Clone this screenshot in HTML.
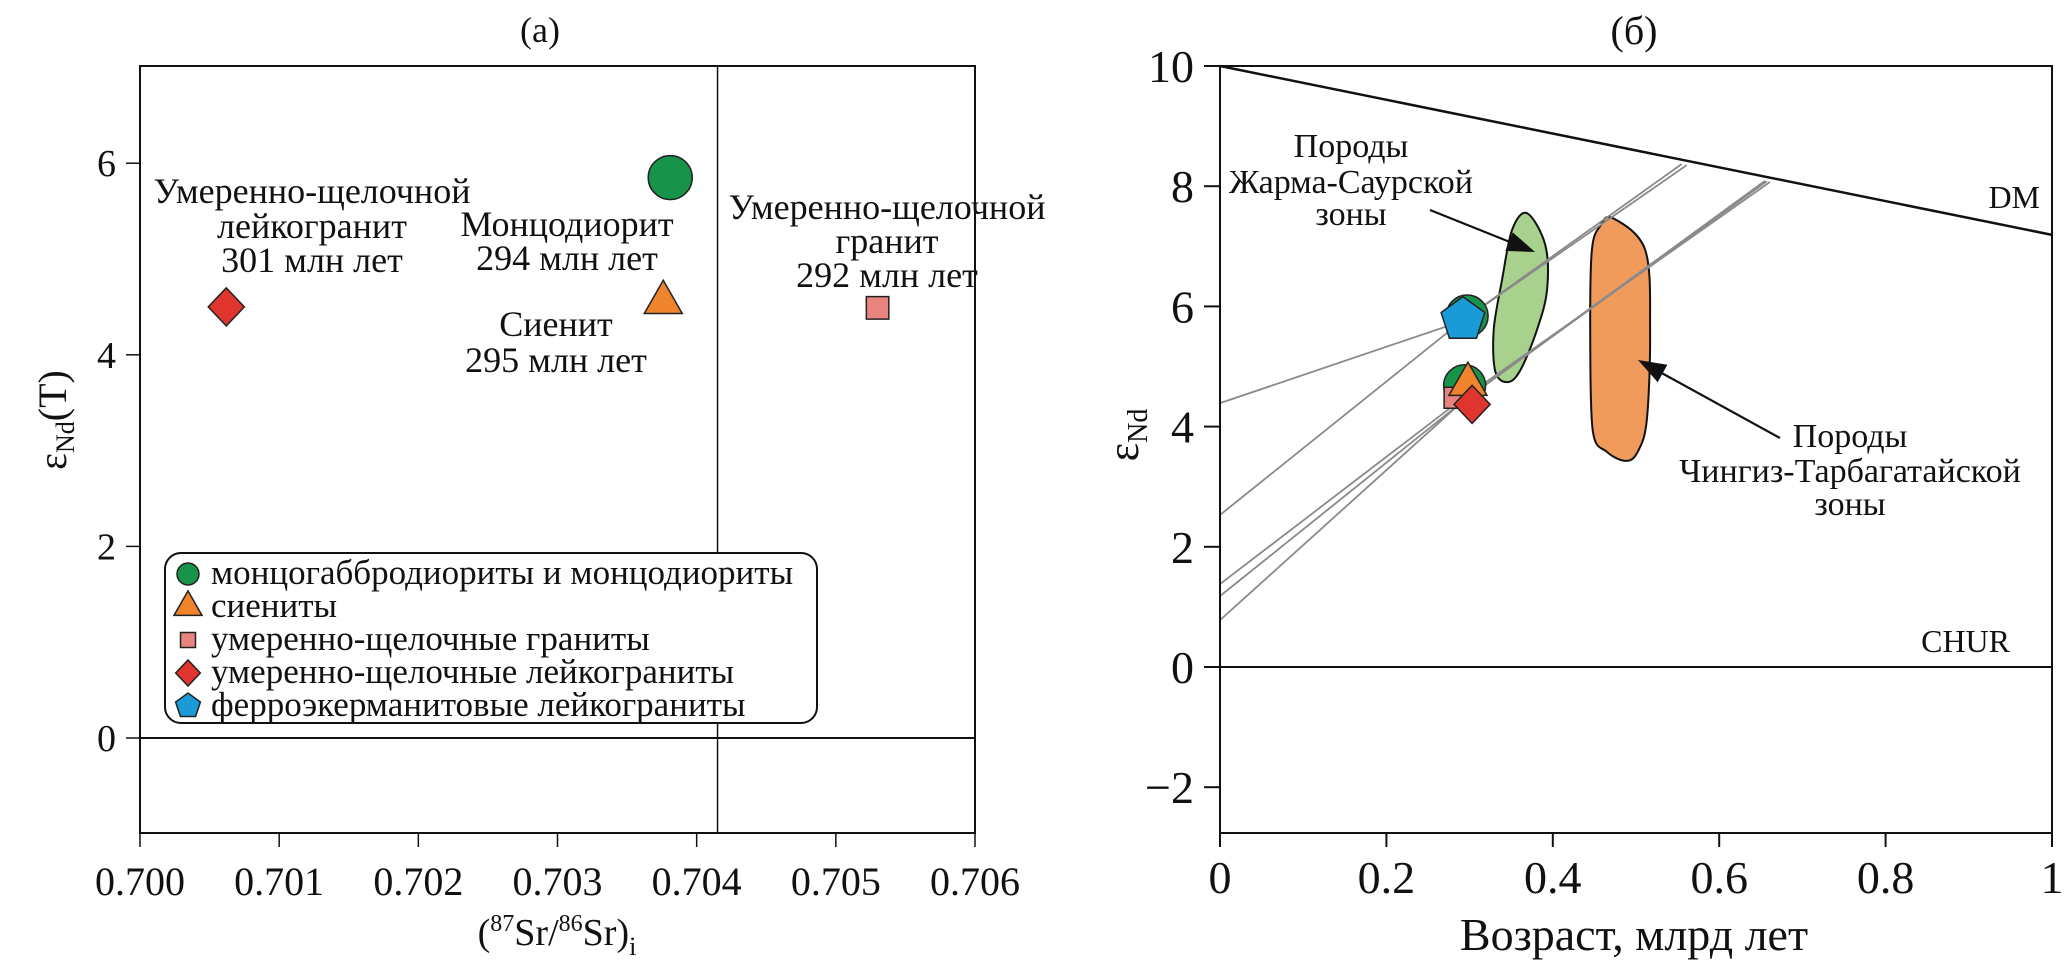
<!DOCTYPE html>
<html><head><meta charset="utf-8"><style>
body{margin:0;background:#fff}
svg{display:block}
text{font-family:"Liberation Serif",serif;fill:#111}
</style></head><body>
<svg id="svg" width="2067" height="969" viewBox="0 0 2067 969" xmlns="http://www.w3.org/2000/svg">
<g id="pa"></g>
<g id="pb"></g>
</svg>
<script>
// ---------- Panel A data ----------
const aXTicks = [0.700, 0.701, 0.702, 0.703, 0.704, 0.705, 0.706];
const aXTickLabels = ["0.700","0.701","0.702","0.703","0.704","0.705","0.706"];
const aYTicks = [0, 2, 4, 6];
const aSeriesNames = ["монцогаббродиориты и монцодиориты","сиениты","умеренно-щелочные граниты","умеренно-щелочные лейкограниты","ферроэкерманитовые лейкограниты"];
const aSrValues = [0.70381, 0.70376, 0.70530, 0.70062];
const aNdValues = [5.85, 4.55, 4.49, 4.50];
const aMarkerTypes = ["circle","triangle","square","diamond"];
const aRefSr = 0.70415;

// ---------- Panel B data ----------
const bXTicks = [0, 0.2, 0.4, 0.6, 0.8, 1];
const bXTickLabels = ["0","0.2","0.4","0.6","0.8","1"];
const bYTicks = [10, 8, 6, 4, 2, 0, -2];
const bYTickLabels = ["10","8","6","4","2","0","−2"];
const bDM = [[0, 10], [1, 7.19]];
const bSampleAges = [0.297, 0.292, 0.294, 0.282, 0.298, 0.303];
const bSampleNd = [5.84, 5.78, 4.68, 4.48, 4.71, 4.37];
const bSampleTypes = ["circle","pentagon","circle","square","triangle","diamond"];
const bLineIntercepts = [4.39, 2.53, 1.38, 1.18, 0.78];
const bLinePivotAge = [0.29, 0.29, 0.29, 0.29, 0.29];
const bLinePivotNd = [5.75, 5.75, 4.45, 4.40, 4.40];
const bLineEndAge = [0.561, 0.555, 0.661, 0.657, 0.655];
const bLineEndNd = [8.35, 8.37, 8.07, 8.08, 8.09];
const bGreenBlobAge = [0.369,0.391,0.393,0.381,0.361,0.346,0.331,0.329,0.339,0.351];
const bGreenBlobNd  = [7.55,7.02,6.27,5.61,4.94,4.74,4.91,5.61,6.44,7.27];
const bOrangeBlobAge = [0.472,0.511,0.517,0.513,0.502,0.488,0.465,0.448,0.445,0.447,0.457];
const bOrangeBlobNd  = [7.47,6.94,5.61,4.11,3.58,3.43,3.58,3.94,5.61,6.94,7.34];

const NS="http://www.w3.org/2000/svg";
function mk(parent, tag, attrs, txt){const e=document.createElementNS(NS,tag);for(const k in attrs)e.setAttribute(k,attrs[k]);if(txt!==undefined)e.textContent=txt;parent.appendChild(e);return e;}
const colors={circle:"#17934a",triangle:"#ef842d",square:"#e8837e",diamond:"#e0352e",pentagon:"#1a9bd7"};
function marker(g,type,cx,cy,s){
  let e;
  if(type==="circle") e=mk(g,"circle",{cx:cx,cy:cy,r:s,fill:colors.circle,stroke:"#222","stroke-width":1.5});
  else if(type==="triangle") e=mk(g,"polygon",{points:`${cx},${cy-s*1.15} ${cx+s},${cy+s*0.6} ${cx-s},${cy+s*0.6}`,fill:colors.triangle,stroke:"#222","stroke-width":1.5});
  else if(type==="square") e=mk(g,"rect",{x:cx-s*0.75,y:cy-s*0.75,width:s*1.5,height:s*1.5,fill:colors.square,stroke:"#222","stroke-width":1.5});
  else if(type==="diamond") e=mk(g,"polygon",{points:`${cx},${cy-s} ${cx+s*0.95},${cy} ${cx},${cy+s} ${cx-s*0.95},${cy}`,fill:colors.diamond,stroke:"#222","stroke-width":1.5});
  else { let p=[];for(let i=0;i<5;i++){const a=-Math.PI/2+i*2*Math.PI/5;p.push((cx+s*Math.cos(a)).toFixed(1)+","+(cy+s*Math.sin(a)).toFixed(1));}
    e=mk(g,"polygon",{points:p.join(" "),fill:colors.pentagon,stroke:"#222","stroke-width":1.5});}
  return e;
}
function smoothPath(pts){
  const n=pts.length;let d=`M${pts[0][0]},${pts[0][1]}`;
  for(let i=0;i<n;i++){const p0=pts[(i-1+n)%n],p1=pts[i],p2=pts[(i+1)%n],p3=pts[(i+2)%n];
    const c1=[p1[0]+(p2[0]-p0[0])/6,p1[1]+(p2[1]-p0[1])/6],c2=[p2[0]-(p3[0]-p1[0])/6,p2[1]-(p3[1]-p1[1])/6];
    d+=`C${c1[0].toFixed(1)},${c1[1].toFixed(1)} ${c2[0].toFixed(1)},${c2[1].toFixed(1)} ${p2[0].toFixed(1)},${p2[1].toFixed(1)}`;}
  return d+"Z";
}

// ---------- Panel A ----------
(function(){
const g=document.getElementById("pa");
const L=140,R=975,T=66,B=833;
const xs=v=>L+(v-0.700)/0.006*(R-L);
const ys=v=>738-v*95.8;
let e;
e=mk(g,"text",{x:540,y:42,"font-size":36,"text-anchor":"middle"},"(a)");


e=mk(g,"rect",{x:L,y:T,width:R-L,height:B-T,fill:"none",stroke:"#111","stroke-width":2});


e=mk(g,"line",{x1:L,x2:R,y1:ys(0),y2:ys(0),stroke:"#111","stroke-width":2});


e=mk(g,"line",{x1:xs(aRefSr),x2:xs(aRefSr),y1:T,y2:B,stroke:"#111","stroke-width":1.5});


aXTicks.forEach((t,i)=>{
  e=mk(g,"line",{x1:xs(t),x2:xs(t),y1:B,y2:B+14,stroke:"#111","stroke-width":1.5});
  
  
  e=mk(g,"text",{x:xs(t),y:B+62,"font-size":40,"text-anchor":"middle"},aXTickLabels[i]);
  
  
});
aYTicks.forEach(t=>{
  e=mk(g,"line",{x1:L-14,x2:L,y1:ys(t),y2:ys(t),stroke:"#111","stroke-width":1.5});
  
  
  e=mk(g,"text",{x:L-24,y:ys(t)+13,"font-size":38,"text-anchor":"end"},String(t));
  
  
});
e=mk(g,"text",{x:557,y:945,"font-size":38,"text-anchor":"middle"});


e.innerHTML='(<tspan font-size="24" dy="-14">87</tspan><tspan dy="14">Sr/</tspan><tspan font-size="24" dy="-14">86</tspan><tspan dy="14">Sr)</tspan><tspan font-size="26" dy="10">i</tspan>';
e=mk(g,"text",{x:0,y:0,"font-size":40,"text-anchor":"middle",transform:"translate(66,420) rotate(-90)"});


e.innerHTML='ε<tspan font-size="26" dy="8">Nd</tspan><tspan dy="-8">(T)</tspan>';
const lab=[[312,203,"Умеренно-щелочной"],[312,238,"лейкогранит"],[312,272,"301 млн лет"],
 [567,236,"Монцодиорит"],[567,270,"294 млн лет"],[556,336,"Сиенит"],[556,372,"295 млн лет"],
 [887,219,"Умеренно-щелочной"],[887,253,"гранит"],[887,287,"292 млн лет"]];
lab.forEach(l=>{e=mk(g,"text",{x:l[0],y:l[1],"font-size":36,"text-anchor":"middle"},l[2]);
  
  });
const sizes={circle:22,triangle:19,square:15,diamond:19};
aSrValues.forEach((v,i)=>{e=marker(g,aMarkerTypes[i],xs(v),ys(aNdValues[i]),sizes[aMarkerTypes[i]]);
  
  });
const lg=mk(g,"g",{});


e=mk(lg,"rect",{x:165,y:553,width:652,height:170,rx:16,fill:"#fff",stroke:"#111","stroke-width":2});


const lt=["circle","triangle","square","diamond","pentagon"];
const lsz={circle:11,triangle:14,square:10,diamond:13,pentagon:13};
aSeriesNames.forEach((n,i)=>{const y=574+i*33;
  e=marker(lg,lt[i],188,y,lsz[lt[i]]);
  
  
  e=mk(lg,"text",{x:211,y:y+10,"font-size":35},n);
  
  
});
})();

// ---------- Panel B ----------
(function(){
const g=document.getElementById("pb");
const L=1220,R=2052,T=66,B=833;
const xs=v=>L+v*(R-L);
const ys=v=>667-v*60.1;
let e;
e=mk(g,"text",{x:1634,y:44,"font-size":40,"text-anchor":"middle"},"(б)");


e=mk(g,"path",{d:smoothPath(bGreenBlobAge.map((a,i)=>[xs(a),ys(bGreenBlobNd[i])])),fill:"#a9d18e",stroke:"#111","stroke-width":2});


e=mk(g,"path",{d:smoothPath(bOrangeBlobAge.map((a,i)=>[xs(a),ys(bOrangeBlobNd[i])])),fill:"#f09b5c",stroke:"#111","stroke-width":2});


bLineIntercepts.forEach((b0,i)=>{
  e=mk(g,"polyline",{points:`${xs(0)},${ys(b0)} ${xs(bLinePivotAge[i])},${ys(bLinePivotNd[i])} ${xs(bLineEndAge[i])},${ys(bLineEndNd[i])}`,fill:"none",stroke:"#8a8a8a","stroke-width":1.8});
  
  
});
e=mk(g,"line",{x1:xs(bDM[0][0]),y1:ys(bDM[0][1]),x2:xs(bDM[1][0]),y2:ys(bDM[1][1]),stroke:"#111","stroke-width":2.5});


e=mk(g,"line",{x1:L,x2:R,y1:ys(0),y2:ys(0),stroke:"#111","stroke-width":2});


e=mk(g,"rect",{x:L,y:T,width:R-L,height:B-T,fill:"none",stroke:"#111","stroke-width":2});


bXTicks.forEach((t,i)=>{
  e=mk(g,"line",{x1:xs(t),x2:xs(t),y1:B,y2:B+14,stroke:"#111","stroke-width":2});
  
  
  e=mk(g,"text",{x:xs(t),y:B+60,"font-size":46,"text-anchor":"middle"},bXTickLabels[i]);
  
  
});
bYTicks.forEach((t,i)=>{
  e=mk(g,"line",{x1:L-16,x2:L,y1:ys(t),y2:ys(t),stroke:"#111","stroke-width":2});
  
  
  e=mk(g,"text",{x:L-26,y:ys(t)+16,"font-size":46,"text-anchor":"end"},bYTickLabels[i]);
  
  
});
e=mk(g,"text",{x:1634,y:950,"font-size":46,"text-anchor":"middle"},"Возраст, млрд лет");


e=mk(g,"text",{x:0,y:0,"font-size":44,"text-anchor":"middle",transform:"translate(1138,435) rotate(-90)"});


e.innerHTML='ε<tspan font-size="28" dy="9">Nd</tspan>';
e=mk(g,"text",{x:2040,y:208,"font-size":32,"text-anchor":"end"},"DM");


e=mk(g,"text",{x:2010,y:652,"font-size":32,"text-anchor":"end"},"CHUR");


[[1351,157,"Породы"],[1351,193,"Жарма-Саурской"],[1351,225,"зоны"]].forEach(l=>{
  e=mk(g,"text",{x:l[0],y:l[1],"font-size":34,"text-anchor":"middle"},l[2]);
  
  });
[[1850,447,"Породы"],[1850,482,"Чингиз-Тарбагатайской"],[1850,515,"зоны"]].forEach(l=>{
  e=mk(g,"text",{x:l[0],y:l[1],"font-size":34,"text-anchor":"middle"},l[2]);
  
  });
function arrow(x1,y1,x2,y2,name){
  const a=Math.atan2(y2-y1,x2-x1),h=28,w=10;
  const bx=x2-h*Math.cos(a),by=y2-h*Math.sin(a);
  const ag=mk(g,"g",{});
  
  
  mk(ag,"line",{x1:x1,y1:y1,x2:bx,y2:by,stroke:"#111","stroke-width":2.2});
  mk(ag,"polygon",{points:`${x2},${y2} ${bx-w*Math.sin(a)},${by+w*Math.cos(a)} ${bx+w*Math.sin(a)},${by-w*Math.cos(a)}`,fill:"#111"});
}
arrow(1430,210,1535,252,'zharma-saur-arrow');
arrow(1780,438,1638,360,'chingiz-tarbagatai-arrow');
const bs={circle:21,pentagon:23,square:14,triangle:19,diamond:19};
bSampleAges.forEach((a,i)=>{e=marker(g,bSampleTypes[i],xs(a),ys(bSampleNd[i]),bs[bSampleTypes[i]]);
  
  });
})();
</script>
</body></html>
